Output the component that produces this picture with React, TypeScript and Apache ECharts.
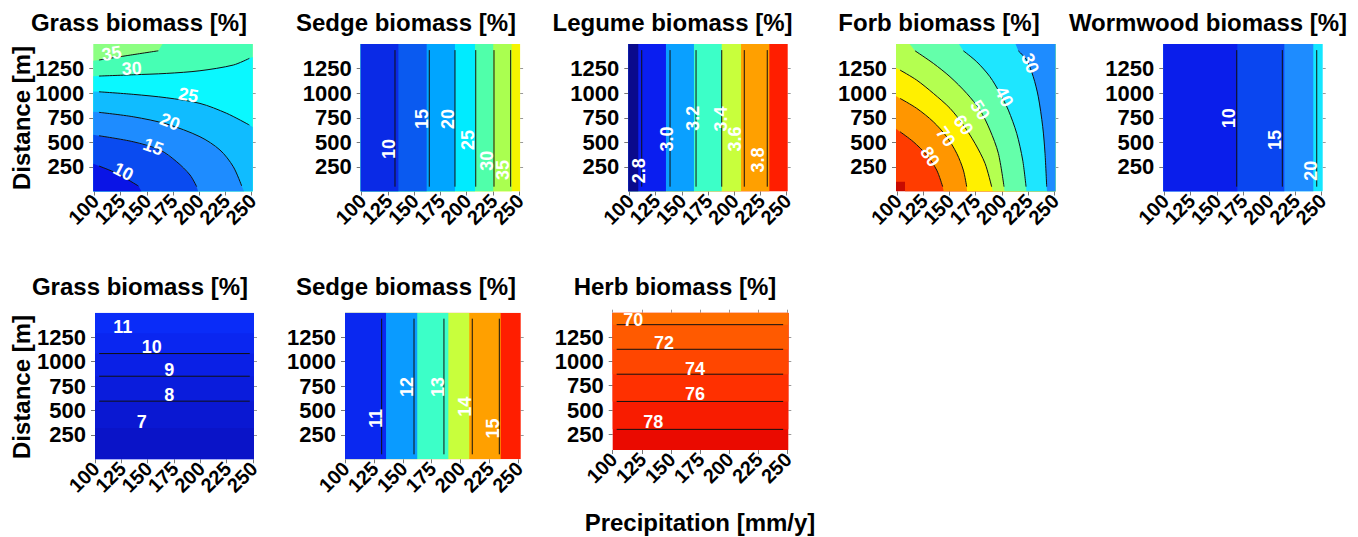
import React, { useEffect, useRef } from "react";
import * as echarts from "echarts";

const FONT = '"Liberation Sans", Arial, Helvetica, sans-serif';

// ---------- shared axis data ----------
const precipTicks = [100, 125, 150, 175, 200, 225, 250];
const distTicks = [250, 500, 750, 1000, 1250];

const panelTitles = [
  "Grass biomass [%]",
  "Sedge biomass [%]",
  "Legume biomass [%]",
  "Forb biomass [%]",
  "Wormwood biomass [%]",
  "Grass biomass [%]",
  "Sedge biomass [%]",
  "Herb biomass [%]",
];
const yAxisTitle = "Distance [m]";
const xAxisTitle = "Precipitation [mm/y]";

// ---------- Panel 1: Grass biomass (top row) ----------
const grassTopLevels = [10, 15, 20, 25, 30, 35];
const grassTopColors = ["#0A14E6", "#0A4BF0", "#1E8CFF", "#10BCFF", "#0AF8FF", "#46FFB4", "#8CFF82"];
const grassTopLines = [
  [[104.4, 259], [121.3, 185], [142, 56]],
  [[104.4, 567], [137.1, 506], [162.6, 422], [178.5, 303], [191.2, 168], [197.6, 49]],
  [[104.4, 805], [137.1, 760], [169, 686], [200.7, 557], [219.8, 422], [232.5, 252], [240.5, 56]],
  [[104.4, 1014], [137.1, 988], [169, 953], [200.7, 896], [226.2, 795], [247.8, 676]],
  [[104.4, 1174], [137.1, 1187], [169, 1201], [200.7, 1228], [232.5, 1286], [247.8, 1354]],
  [[104.4, 1337], [133, 1385], [161, 1431]],
];
const grassTopFill = [
  [[99, 283], [104.4, 259], [121.3, 185], [142, 56], [145, 0]],
  [[99, 577], [104.4, 567], [137.1, 506], [162.6, 422], [178.5, 303], [191.2, 168], [197.6, 49], [199, 0]],
  [[99, 812], [104.4, 805], [137.1, 760], [169, 686], [200.7, 557], [219.8, 422], [232.5, 252], [240.5, 56], [242.8, 0]],
  [[99, 1018], [104.4, 1014], [137.1, 988], [169, 953], [200.7, 896], [226.2, 795], [247.8, 676], [251, 655]],
  [[99, 1172], [104.4, 1174], [137.1, 1187], [169, 1201], [200.7, 1228], [232.5, 1286], [247.8, 1354], [251, 1368]],
  [[99, 1330], [104.4, 1337], [133, 1385], [161, 1431], [165, 1500]],
];
const grassTopLabels: [number, number, string, number][] = [
  [116.5, 1404, "35", 9],
  [135.6, 1252, "30", 3],
  [189.6, 981, "25", -10],
  [172.1, 709, "20", -21],
  [156.2, 455, "15", -20],
  [127.6, 201, "10", -27],
];

// ---------- Panel 2: Sedge biomass (top row) ----------
const sedgeTopLevels = [10, 15, 20, 25, 30, 35];
const sedgeTopColors = ["#0A2AE6", "#0A5AF0", "#00A5FF", "#00EBFF", "#50FFAA", "#AAFF50", "#F5F500"];
const sedgeTopFillX = [134.9, 161.9, 188.9, 208.0, 225.4, 243.0];
const sedgeTopLineX = [131.7, 164.4, 188.9, 208.7, 226.1, 242.0];
const sedgeTopLabels: [number, number, string, number][] = [
  [126.2, 432, "10", 90],
  [157.2, 737, "15", 90],
  [182.5, 737, "20", 90],
  [201, 523, "25", 90],
  [219.1, 313, "30", 90],
  [234.4, 218, "35", 90],
];

// ---------- Panel 3: Legume biomass ----------
const legumeLevels = [2.8, 3.0, 3.2, 3.4, 3.6, 3.8];
const legumeColors = ["#0A0A8C", "#0A1EF0", "#0AA0FF", "#3CFFC8", "#C8FF3C", "#FFA000", "#FF1E00"];
const legumeFillX = [108.5, 134.9, 161.6, 188.1, 206.5, 233.5];
const legumeLineX = [111.8, 138.8, 163.6, 188.1, 209.6, 231.5];
const legumeLabels: [number, number, string, number][] = [
  [109.5, 211, "2.8", 90],
  [135.6, 534, "3.0", 90],
  [161, 744, "3.2", 90],
  [187.4, 737, "3.4", 90],
  [200.7, 534, "3.6", 90],
  [223, 320, "3.8", 90],
];

// ---------- Panel 4: Forb biomass ----------
const forbLevels = [30, 40, 50, 60, 70, 80, 90];
const forbColors = ["#1E8CFF", "#1EE6FF", "#64FFAA", "#B4FF50", "#FFF000", "#FF9600", "#FF3C00", "#C80A00"];
const forbLines = [
  [[215.6, 1431], [223.6, 1336], [229.9, 1167], [234.7, 963], [238.9, 659], [241.1, 388], [242.7, 49]],
  [[163.2, 1431], [176, 1319], [188.6, 1167], [198.2, 998], [206.1, 828], [214.1, 591], [219.8, 320], [223, 49]],
  [[117.1, 1431], [134.6, 1303], [150.5, 1167], [166.4, 998], [179.1, 828], [188.6, 625], [196.6, 388], [202, 49]],
  [[102.8, 1235], [118.7, 1133], [134.6, 998], [150.5, 846], [163.2, 676], [174.3, 490], [183.9, 286], [190.2, 49]],
  [[102.8, 947], [118.7, 846], [134.6, 709], [147.3, 557], [156.9, 388], [163.2, 218], [166.4, 49]],
  [[102.8, 608], [115.5, 506], [128.2, 371], [137.8, 218], [143.5, 49]],
];
const forbFill = [
  [[213, 1500], [215.6, 1431], [223.6, 1336], [229.9, 1167], [234.7, 963], [238.9, 659], [241.1, 388], [242.7, 49], [243, 0]],
  [[159, 1500], [163.2, 1431], [176, 1319], [188.6, 1167], [198.2, 998], [206.1, 828], [214.1, 591], [219.8, 320], [223, 49], [223.3, 0]],
  [[112, 1500], [117.1, 1431], [134.6, 1303], [150.5, 1167], [166.4, 998], [179.1, 828], [188.6, 625], [196.6, 388], [202, 49], [202.5, 0]],
  [[99, 1259], [102.8, 1235], [118.7, 1133], [134.6, 998], [150.5, 846], [163.2, 676], [174.3, 490], [183.9, 286], [190.2, 49], [191.4, 0]],
  [[99, 971], [102.8, 947], [118.7, 846], [134.6, 709], [147.3, 557], [156.9, 388], [163.2, 218], [166.4, 49], [166.8, 0]],
  [[99, 638], [102.8, 608], [115.5, 506], [128.2, 371], [137.8, 218], [143.5, 49], [144.5, 0]],
  [[99, 100], [107.6, 100], [107.6, 0]],
];
const forbLabels: [number, number, string, number][] = [
  [131.4, 354, "80", -56],
  [146.4, 557, "70", -54],
  [163.2, 676, "60", -54],
  [179.1, 828, "50", -57],
  [202, 963, "40", -63],
  [226.8, 1303, "30", -68],
];

// ---------- Panel 5: Wormwood biomass ----------
const wormwoodLevels = [10, 15, 20];
const wormwoodColors = ["#0A1EEB", "#0A46F0", "#1E8CFF", "#14E6FF"];
const wormwoodFillX = [169.6, 214.4, 242.0];
const wormwoodLineX = [169.0, 212.5, 245.3];
const wormwoodLabels: [number, number, string, number][] = [
  [161.9, 744, "10", 90],
  [205.5, 523, "15", 90],
  [239.6, 211, "20", 90],
];
const topLineSpan = [49, 1438];

// ---------- Panel 6: Grass biomass (bottom row) ----------
const grassBottomLevels = [7, 8, 9, 10, 11];
const grassBottomColors = ["#0A14C8", "#0A18D2", "#0A1CDC", "#0A20E6", "#0A26F0", "#0A2CF8"];
const grassBottomFillY = [320, 595, 850, 1082, 1290];
const grassBottomLineY = [595, 850, 1082];
const grassBottomLineSpan = [104, 247];
const grassBottomLabels: [number, number, string, number][] = [
  [126.3, 1353, "11", 0],
  [153.8, 1149, "10", 0],
  [170.6, 911, "9", 0],
  [170.6, 656, "8", 0],
  [144.3, 384, "7", 0],
];

// ---------- Panel 7: Sedge biomass (bottom row) ----------
const sedgeBottomLevels = [11, 12, 13, 14, 15];
const sedgeBottomColors = ["#0A28F0", "#0A9BFF", "#3CFFC8", "#C8FF3C", "#FFA000", "#FF1E00"];
const sedgeBottomFillX = [135.5, 162.5, 189.4, 207.5, 234.7];
const sedgeBottomLineX = [131.7, 159.7, 185.6, 210.1, 233.5];
const sedgeBottomLineSpan = [51, 1439];
const sedgeBottomLabels: [number, number, string, number][] = [
  [126.8, 418, "11", 90],
  [153.9, 741, "12", 90],
  [180.7, 741, "13", 90],
  [203.8, 537, "14", 90],
  [227.8, 316, "15", 90],
];

// ---------- Panel 8: Herb biomass ----------
const herbLevels = [70, 72, 74, 76, 78];
const herbColors = ["#FF6E00", "#FF5A00", "#FF4600", "#FF3000", "#F81C00", "#EA0A00"];
const herbLineY = [1377, 1124, 868, 588, 301];
const herbLineSpan = [103.4, 246.6];
const herbLabels: [number, number, string, number][] = [
  [117.7, 1428, "70", 0],
  [144.1, 1189, "72", 0],
  [170.7, 926, "74", 0],
  [170.7, 663, "76", 0],
  [134.9, 373, "78", 0],
];

// ---------- layout (pixels) ----------
const layout = [
  { left: 93.3, top: 44, width: 159.4, height: 147.5, x: [99, 251], y: [0, 1500] },
  { left: 360.7, top: 44, width: 159.4, height: 147.5, x: [99, 251], y: [0, 1500] },
  { left: 628.3, top: 44, width: 159.4, height: 147.5, x: [99, 251], y: [0, 1500] },
  { left: 896, top: 44, width: 159.4, height: 147.5, x: [99, 251], y: [0, 1500] },
  { left: 1163.3, top: 44, width: 159.4, height: 147.5, x: [99, 251], y: [0, 1500] },
  { left: 95, top: 312.7, width: 159, height: 146.6, x: [100, 251], y: [0, 1500] },
  { left: 345, top: 312.7, width: 175.7, height: 146.6, x: [100, 252], y: [0, 1500] },
  { left: 612.7, top: 312.7, width: 175.6, height: 137.3, x: [100, 251], y: [89, 1500] },
];
const titlePos = [
  [139, 22.5], [406, 22.5], [672.5, 22.5], [939, 22.5], [1208, 22.5],
  [140, 286], [406, 286], [675, 286],
];

type Pt = number[];
type Panel = {
  levels: number[];
  colors: string[];
  fill: Pt[][];
  lines: Pt[][];
  labels: [number, number, string, number][];
  low: Pt;
  smooth: boolean;
};

const vFill = (xs: number[], r: number[]) => xs.map((x) => [[x, r[0]], [x, r[1]]]);
const hFill = (ys: number[], r: number[]) => ys.map((y) => [[r[0], y], [r[1], y]]);

function buildPanels(): Panel[] {
  const L = layout;
  return [
    { levels: grassTopLevels, colors: grassTopColors, fill: grassTopFill, lines: grassTopLines, labels: grassTopLabels, low: [L[0].x[0], L[0].y[0]], smooth: true },
    { levels: sedgeTopLevels, colors: sedgeTopColors, fill: vFill(sedgeTopFillX, L[1].y), lines: vFill(sedgeTopLineX, topLineSpan), labels: sedgeTopLabels, low: [L[1].x[0], L[1].y[0]], smooth: false },
    { levels: legumeLevels, colors: legumeColors, fill: vFill(legumeFillX, L[2].y), lines: vFill(legumeLineX, topLineSpan), labels: legumeLabels, low: [L[2].x[0], L[2].y[0]], smooth: false },
    { levels: forbLevels, colors: forbColors, fill: forbFill, lines: forbLines, labels: forbLabels, low: [L[3].x[1], L[3].y[1]], smooth: true },
    { levels: wormwoodLevels, colors: wormwoodColors, fill: vFill(wormwoodFillX, L[4].y), lines: vFill(wormwoodLineX, topLineSpan), labels: wormwoodLabels, low: [L[4].x[0], L[4].y[0]], smooth: false },
    { levels: grassBottomLevels, colors: grassBottomColors, fill: hFill(grassBottomFillY, L[5].x), lines: hFill(grassBottomLineY, grassBottomLineSpan), labels: grassBottomLabels, low: [L[5].x[0], L[5].y[0]], smooth: false },
    { levels: sedgeBottomLevels, colors: sedgeBottomColors, fill: vFill(sedgeBottomFillX, L[6].y), lines: vFill(sedgeBottomLineX, sedgeBottomLineSpan), labels: sedgeBottomLabels, low: [L[6].x[0], L[6].y[0]], smooth: false },
    { levels: herbLevels, colors: herbColors, fill: hFill(herbLineY, L[7].x), lines: hFill(herbLineY, herbLineSpan), labels: herbLabels, low: [L[7].x[0], L[7].y[1]], smooth: false },
  ];
}

// close an edge-to-edge boundary into the region on its "low" side
function closeRegion(curve: Pt[], r: number[], low: Pt): Pt[] {
  const [x0, x1, y0, y1] = r;
  const W = x1 - x0;
  const H = y1 - y0;
  const P = 2 * (W + H);
  const e = 1e-6;
  const tOf = (p: Pt) => {
    if (Math.abs(p[1] - y0) < e) return p[0] - x0;
    if (Math.abs(p[0] - x1) < e) return W + (p[1] - y0);
    if (Math.abs(p[1] - y1) < e) return W + H + (x1 - p[0]);
    return 2 * W + H + (y1 - p[1]);
  };
  const corners: Pt[] = [[x0, y0], [x1, y0], [x1, y1], [x0, y1]];
  const tE = tOf(curve[curve.length - 1]);
  const tS = tOf(curve[0]);
  const walk = (dir: number) => {
    const dist = (t: number) => (((dir * (t - tE)) % P) + P) % P;
    const dS = dist(tS);
    return corners
      .filter((c) => {
        const d = dist(tOf(c));
        return d > 0 && d < dS;
      })
      .sort((a, b) => dist(tOf(a)) - dist(tOf(b)));
  };
  let extra = walk(1);
  if (!extra.some((c) => c[0] === low[0] && c[1] === low[1])) extra = walk(-1);
  return curve.concat(extra);
}

const plain = (v: number) => String(v);
const txt = (text: string, font: string, fill: string, align: string, vAlign: string) => ({
  text, font, fill, align, verticalAlign: vAlign, textAlign: align, textVerticalAlign: vAlign,
});

function buildOption() {
  const panels = buildPanels();
  const grid: any[] = [];
  const xAxis: any[] = [];
  const yAxis: any[] = [];
  const series: any[] = [];
  const graphic: any[] = [];

  panels.forEach((p, i) => {
    const g = layout[i];
    grid.push({ left: g.left, top: g.top, width: g.width, height: g.height, containLabel: false });
    const rect = [g.x[0], g.x[1], g.y[0], g.y[1]];
    xAxis.push({
      gridIndex: i, type: "value", min: g.x[0], max: g.x[1], position: "bottom",
      axisLine: { show: false }, splitLine: { show: false },
      axisTick: { show: true, customValues: precipTicks, length: 4, lineStyle: { color: "#777", width: 1 } },
      axisLabel: { show: false },
    });
    xAxis.push({
      gridIndex: i, type: "value", min: g.x[0], max: g.x[1], position: "top",
      axisLine: { show: false }, splitLine: { show: false },
      axisTick: { show: true, customValues: precipTicks, length: 3, lineStyle: { color: "#999", width: 1 } },
      axisLabel: { show: false },
    });
    yAxis.push({
      gridIndex: i, type: "value", min: g.y[0], max: g.y[1], position: "left",
      axisLine: { show: false }, splitLine: { show: false },
      axisTick: { show: true, customValues: distTicks, length: 4, lineStyle: { color: "#777", width: 1 } },
      axisLabel: {
        customValues: distTicks, formatter: plain, margin: 9, fontSize: 22, fontWeight: "bold",
        color: "#000", fontFamily: FONT, showMinLabel: true, showMaxLabel: true,
      },
    });
    yAxis.push({
      gridIndex: i, type: "value", min: g.y[0], max: g.y[1], position: "right",
      axisLine: { show: false }, splitLine: { show: false },
      axisTick: { show: true, customValues: distTicks, length: 3, lineStyle: { color: "#999", width: 1 } },
      axisLabel: { show: false },
    });

    // filled contour bands
    const n = p.fill.length;
    const layers = Array.from({ length: n + 1 }, () => [g.x[0], g.y[0]]);
    series.push({
      type: "custom", xAxisIndex: 2 * i, yAxisIndex: 2 * i, clip: true, silent: true, z: 1,
      data: layers,
      renderItem: (params: any, api: any) => {
        const j = params.dataIndex;
        let pts: Pt[];
        let color: string;
        if (j === 0) {
          pts = [[rect[0], rect[2]], [rect[1], rect[2]], [rect[1], rect[3]], [rect[0], rect[3]]];
          color = p.colors[n];
        } else {
          const k = n - j;
          pts = closeRegion(p.fill[k], rect, p.low);
          color = p.colors[k];
        }
        return { type: "polygon", shape: { points: pts.map((q) => api.coord(q)) }, style: { fill: color } };
      },
    });

    // contour lines
    p.lines.forEach((ln) => {
      series.push({
        type: "line", xAxisIndex: 2 * i, yAxisIndex: 2 * i, data: ln, symbol: "none",
        smooth: p.smooth ? 0.3 : false, clip: true, silent: true, z: 2,
        lineStyle: { color: "#111", width: 1 },
      });
    });

    // contour labels
    series.push({
      type: "custom", xAxisIndex: 2 * i, yAxisIndex: 2 * i, clip: true, silent: true, z: 3,
      data: p.labels.map((l) => [l[0], l[1]]),
      renderItem: (params: any, api: any) => {
        const l = p.labels[params.dataIndex];
        const c = api.coord([l[0], l[1]]);
        return {
          type: "text", x: c[0], y: c[1], rotation: (l[3] * Math.PI) / 180,
          style: txt(l[2], `bold 18px ${FONT}`, "#fff", "center", "middle"),
        };
      },
    });

    // rotated precipitation tick labels (placed through the x scale)
    series.push({
      type: "custom", xAxisIndex: 2 * i, yAxisIndex: 2 * i, clip: false, silent: true, z: 4,
      data: precipTicks.map((v) => [v, g.y[0]]),
      renderItem: (params: any, api: any) => {
        const v = precipTicks[params.dataIndex];
        const c = api.coord([v, g.y[0]]);
        return {
          type: "text", x: c[0] + 1, y: c[1] + 6, rotation: Math.PI / 4,
          style: txt(String(v), `bold 20px ${FONT}`, "#000", "right", "middle"),
        };
      },
    });

    graphic.push({
      type: "text", x: titlePos[i][0], y: titlePos[i][1],
      style: txt(panelTitles[i], `bold 24px ${FONT}`, "#000", "center", "middle"),
    });
  });

  graphic.push({
    type: "text", x: 21, y: 118, rotation: Math.PI / 2,
    style: txt(yAxisTitle, `bold 24px ${FONT}`, "#000", "center", "middle"),
  });
  graphic.push({
    type: "text", x: 21, y: 387, rotation: Math.PI / 2,
    style: txt(yAxisTitle, `bold 24px ${FONT}`, "#000", "center", "middle"),
  });
  graphic.push({
    type: "text", x: 700, y: 522,
    style: txt(xAxisTitle, `bold 24px ${FONT}`, "#000", "center", "middle"),
  });

  return { animation: false, backgroundColor: "#fff", grid, xAxis, yAxis, series, graphic };
}

export default function App() {
  const ref = useRef<HTMLDivElement>(null);
  useEffect(() => {
    document.body.style.margin = "0";
    const chart = echarts.init(ref.current as HTMLDivElement, null, { renderer: "svg" });
    chart.setOption(buildOption() as any);
    return () => chart.dispose();
  }, []);
  return <div ref={ref} style={{ position: "absolute", left: 0, top: 0, width: 1358, height: 537, background: "#fff" }} />;
}
